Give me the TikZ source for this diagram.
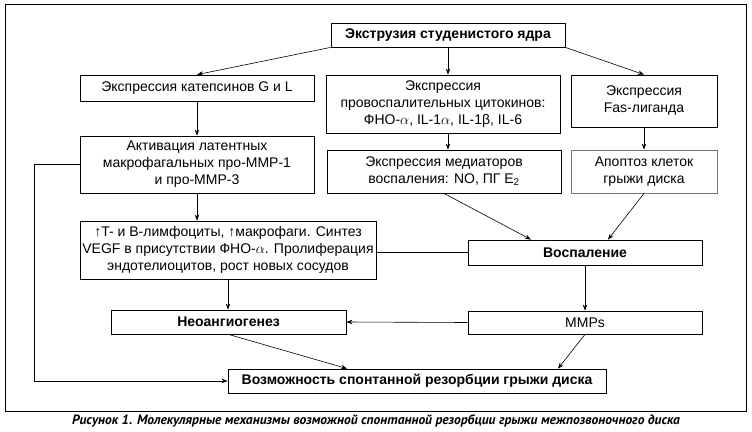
\documentclass[tikz,border=0pt]{standalone}
\usepackage{fontspec}
\setmainfont{Liberation Sans}
\newfontfamily\capfont{PT Sans}
\usetikzlibrary{arrows.meta}

\begin{document}
\begin{tikzpicture}[x=1pt, y=-1pt,
  box/.style={draw, line width=0.8pt, rectangle, inner sep=1pt, align=center,
    font=\fontsize{14}{17}\selectfont},
  bbox/.style={box, font=\fontsize{14}{17}\selectfont\bfseries},
  arr/.style={-{Stealth[length=6pt, width=4.5pt]}, line width=0.6pt}]
\useasboundingbox (0,0) rectangle (752,431);

% frame
\draw[line width=0.9pt] (5,4) rectangle (746,411);

% boxes
\node (ext)[bbox, minimum width=234, minimum height=24] at (448,35) {Экструзия студенистого ядра};
\node (cat)[box, minimum width=234, minimum height=26] at (197,88) {Экспрессия катепсинов G и L};
\node (cyt)[box, minimum width=234, minimum height=58] at (443,104) {Экспрессия\\провоспалительных цитокинов:\\ФНО-$\alpha$, IL-1$\alpha$, IL-1β, IL-6};
\node (fas)[box, minimum width=146, minimum height=52] at (644,101) {Экспрессия\\Fas-лиганда};
\node (act)[box, minimum width=234, minimum height=57] at (197,164.5) {Активация латентных\\макрофагальных про-ММР-1\\и про-ММР-3};
\node (med)[box, minimum width=234, minimum height=43] at (444,171.5) {Экспрессия медиаторов\\воспаления: NO, ПГ E\textsubscript{2}};
\node (apo)[box, draw=black!55, minimum width=146, minimum height=43] at (644,171.5) {Апоптоз клеток\\грыжи диска};
\node (lym)[box, minimum width=296, minimum height=58] at (228,250) {↑T- и B-лимфоциты, ↑макрофаги. Синтез\\VEGF в присутствии ФНО-$\alpha$. Пролиферация\\эндотелиоцитов, рост новых сосудов};
\node (vos)[bbox, minimum width=234, minimum height=25] at (585,252.5) {Воспаление};
\node (neo)[bbox, minimum width=235, minimum height=24] at (228.5,322) {Неоангиогенез};
\node (mmp)[box, minimum width=234, minimum height=23] at (585,322.5) {MMPs};
\node (voz)[bbox, minimum width=378, minimum height=24] at (417,381) {Возможность спонтанной резорбции грыжи диска};

% arrows
\draw[arr] (ext.south west) -- (cat.north);
\draw[arr] (ext.south) -- (ext.south |- cyt.north);
\draw[arr] (ext.south east) -- (fas.north);
\draw[arr] (cat.south) -- (act.north);
\draw[arr] (cyt.south -| ext.south) -- (med.north -| ext.south);
\draw[arr] (fas.south) -- (apo.north);
\draw[arr] (act.south) -- (act.south |- lym.north);
\draw[arr] (act.west) -- ++(-45,0) |- (voz.west);
\draw[arr] (med.south) -- ([xshift=-54]vos.north);
\draw[arr] (apo.south) -- ([xshift=23]vos.north);
\draw[line width=0.6pt] (vos.west) -- (vos.west -| lym.east);
\draw[arr] (lym.south) -- (lym.south |- neo.north);
\draw[arr] (vos.south) -- (mmp.north);
\draw[arr] (mmp.west) -- (neo.east);
\draw[arr] (neo.south) -- ([xshift=-70]voz.north);
\draw[arr] (mmp.south) -- ([xshift=141]voz.north);

% caption
\node (cap) at (376,421) {\capfont\fontsize{13.5}{15}\selectfont\bfseries\itshape Рисунок 1. Молекулярные механизмы возможной спонтанной резорбции грыжи межпозвоночного диска};

\end{tikzpicture}
\end{document}
